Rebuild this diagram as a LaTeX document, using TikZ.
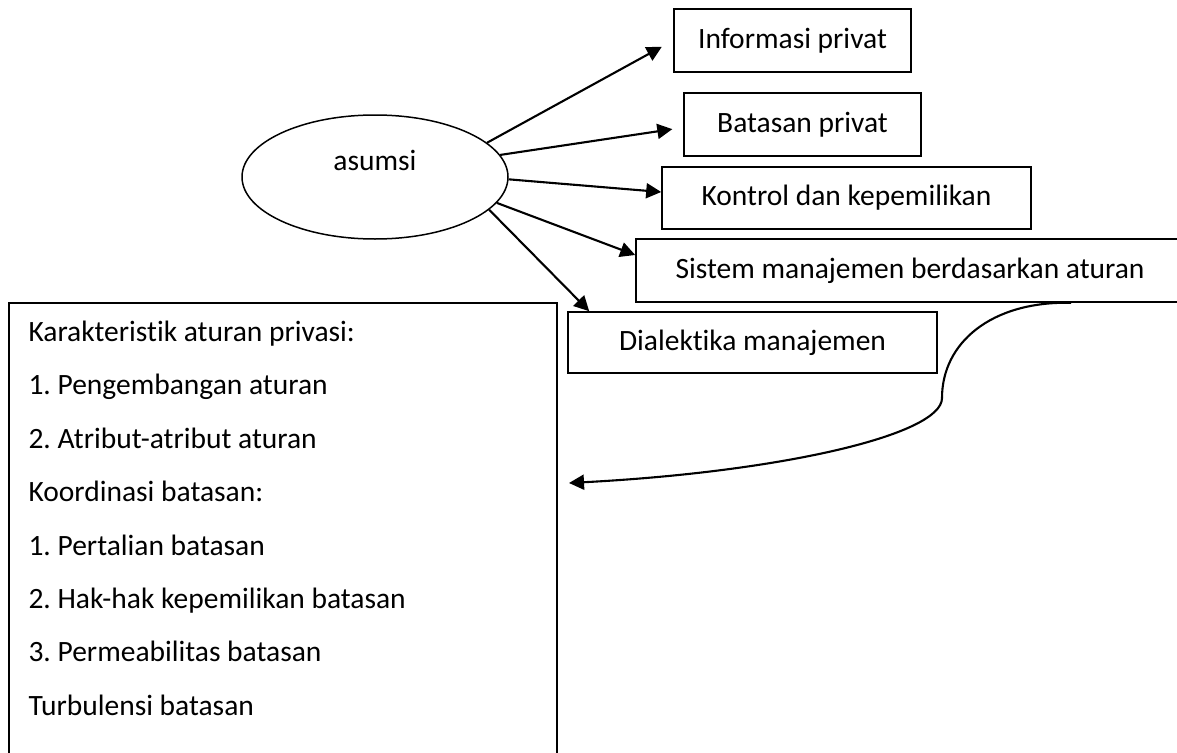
\documentclass[tikz,border=0pt]{standalone}
\usepackage{fontspec}
\setmainfont{Carlito}[Ligatures=NoCommon]
\frenchspacing
\usetikzlibrary{shapes.geometric,arrows.meta}

\begin{document}
\begin{tikzpicture}[x=1pt,y=-1pt,
	every node/.style={font=\fontsize{29.5}{35}\selectfont},
	box/.style={draw=black,line width=1.6pt,minimum height=63pt,inner sep=0pt},
	arrow/.style={-{Triangle[length=15pt,width=15pt]},line width=2.1pt}]

	\path[use as bounding box,clip] (0,0) rectangle (1177,752);

	\node[shape=ellipse,draw=black,line width=1.5pt,minimum width=266pt,minimum height=124pt,inner sep=0pt,label={[yshift=17pt]center:asumsi}] (asumsi) at (375,177) {};
	\node[box,minimum width=237pt] (informasi) at (792.5,40.5) {Informasi privat};
	\node[box,minimum width=237pt] (batasan) at (802.5,124.5) {Batasan privat};
	\node[box,minimum width=369pt,minimum height=62pt] (kontrol) at (846.5,198) {Kontrol dan kepemilikan};
	\node[box,minimum width=548pt] (sistem) at (910,270.5) {Sistem manajemen berdasarkan aturan};
	\node[box,minimum width=369pt,minimum height=61pt] (dialektika) at (752.5,342.5) {Dialektika manajemen};
	\node[box,minimum width=548pt,minimum height=480pt,anchor=north west] (karakteristik) at (8,302) {};

	\node[anchor=base west] (k1) at (25,341) {Karakteristik aturan privasi:};
	\node[anchor=base west] (k2) at (25,394) {1. Pengembangan aturan};
	\node[anchor=base west] (k3) at (25,448) {2. Atribut-atribut aturan};
	\node[anchor=base west] (k4) at (25,501) {Koordinasi batasan:};
	\node[anchor=base west] (k5) at (25,555) {1. Pertalian batasan};
	\node[anchor=base west] (k6) at (25,608) {2. Hak-hak kepemilikan batasan};
	\node[anchor=base west] (k7) at (25,661) {3. Permeabilitas batasan};
	\node[anchor=base west] (k8) at (25,715) {Turbulensi batasan};

	\path[arrow,shorten >=13pt] (asumsi.17) edge (informasi.west);
	\path[arrow,shorten >=11pt] (asumsi.10) edge ([yshift=-3pt]batasan.west);
	\path[arrow] (asumsi.-1) edge ([yshift=6pt]kontrol.west);
	\path[arrow] (asumsi.-12) edge ([yshift=15.5pt]sistem.west);
	\path[arrow] (asumsi.-16) edge ([xshift=22pt]dialektika.north west);

	\coordinate (awal) at ([xshift=161pt]sistem.south);
	\coordinate (belok) at (942,398);
	\coordinate (ujung) at (569,483);
	\draw[arrow] (awal) .. controls (991,301) and (942,343) .. (belok) .. controls (942,435) and (780,472) .. (ujung);
\end{tikzpicture}
\end{document}
